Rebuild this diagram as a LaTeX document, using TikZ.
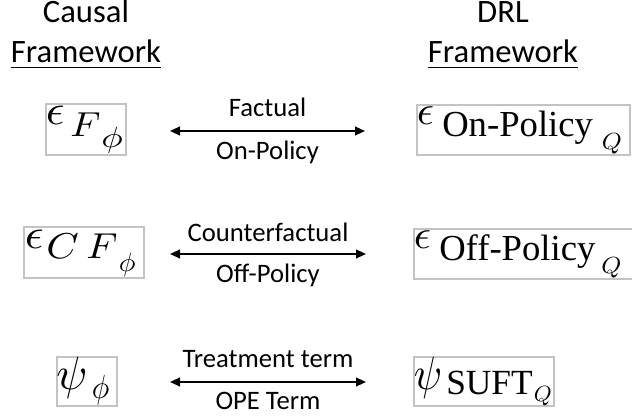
\documentclass[tikz,border=0pt]{standalone}
\usepackage{graphicx}
\usepackage{fontspec}
\setmainfont{Carlito}
\newfontfamily\tms{Liberation Serif}
\usetikzlibrary{arrows.meta,fit}
\newcommand\fsz[1]{\fontsize{#1}{#1}\selectfont}
\newcommand\mth[3]{\scalebox{#1}[#2]{$#3$}}
\definecolor{boxgray}{RGB}{195,195,195}
\tikzset{
  head/.style={inner sep=0pt, anchor=base, font=\fsz{24.5}},
  lbl/.style={inner sep=0pt, anchor=base, font=\fsz{20}},
  gl/.style={inner sep=0pt, anchor=base west},
  mbox/.style={draw=boxgray, line width=0.8pt, inner sep=0pt},
  uline/.style={line width=1.2pt},
  dbl/.style={line width=1.5pt, {Triangle[length=7.5pt,width=6.5pt]}-{Triangle[length=7.5pt,width=6.5pt]}}
}
\begin{document}
\begin{tikzpicture}[x=0.75pt,y=-0.75pt]
\useasboundingbox (0,0) rectangle (632,416);
% headers
\node[head] (h1) at (86,23) {Causal};
\node[head] (h2) at (86,63) {Framework};
\node[head] (h3) at (503,23) {DRL};
\node[head] (h4) at (503,63) {Framework};
\draw[uline] ([yshift=-3.4pt]h2.base west) -- ([yshift=-3.4pt]h2.base east);
\draw[uline] ([yshift=-3.4pt]h4.base west) -- ([yshift=-3.4pt]h4.base east);
% boxes
\node[mbox, fit={(46,104) (126,155)}] (L1) {};
\node[mbox, fit={(24,227) (144,278)}] (L2) {};
\node[mbox, fit={(57,357) (117,406)}] (L3) {};
\node[mbox, fit={(417,105) (630,155)}] (R1) {};
\node[mbox, fit={(414,229) (634,279)}] (R2) {};
\node[mbox, fit={(414,357) (554,406)}] (R3) {};
% left formulas
\node[gl] (l1a) at (45.5,125) {\mth{3.5}{3.2}{\epsilon}};
\node[gl] (l1b) at (70,136.5) {\mth{2.9}{2.6}{F}};
\node[gl] (l1c) at (101,148) {\mth{2.7}{2.2}{\phi}};
\node[gl] (l2a) at (24.5,249) {\mth{3.5}{3.2}{\epsilon}};
\node[gl] (l2b) at (46,259) {\mth{3.1}{2.7}{C}};
\node[gl] (l2c) at (86,259) {\mth{3.0}{2.7}{F}};
\node[gl] (l2d) at (118.5,272) {\mth{2.1}{2.0}{\phi}};
\node[gl] (l3a) at (56,390) {\mth{3.4}{3.5}{\psi}};
\node[gl] (l3b) at (91.5,398.5) {\mth{2.2}{2.5}{\phi}};
% right formulas
\node[gl] (r1a) at (416.5,125) {\mth{3.2}{3.1}{\epsilon}};
\node[gl] (r1b) at (442,137) {\fsz{27.5}\tms On-Policy};
\node[gl] (r1c) at (601.5,150) {\mth{1.9}{1.75}{Q}};
\node[gl] (r2a) at (413.5,249) {\mth{3.2}{3.1}{\epsilon}};
\node[gl] (r2b) at (439,261) {\fsz{27.5}\tms Off-Policy};
\node[gl] (r2c) at (601,274) {\mth{1.9}{1.75}{Q}};
\node[gl] (r3a) at (413.5,390) {\mth{3.1}{3.5}{\psi}};
\node[gl] (r3b) at (446,395) {\fsz{26.5}\tms SUFT};
\node[gl] (r3c) at (533.5,402) {\mth{1.7}{1.65}{Q}};
% arrows
\coordinate (a1l) at (170,131); \coordinate (a1r) at (365,131);
\coordinate (a2l) at (170,254); \coordinate (a2r) at (366,254);
\coordinate (a3l) at (170,382); \coordinate (a3r) at (366,382);
\draw[dbl] (a1l) -- (a1r);
\draw[dbl] (a2l) -- (a2r);
\draw[dbl] (a3l) -- (a3r);
% labels
\node[lbl] (t1) at (267.5,117) {Factual};
\node[lbl] (b1) at (267.5,160) {On-Policy};
\node[lbl] (t2) at (268,242) {Counterfactual};
\node[lbl] (b2) at (268,283) {Off-Policy};
\node[lbl] (t3) at (268,368) {Treatment term};
\node[lbl] (b3) at (268,410) {OPE Term};
\end{tikzpicture}
\end{document}
